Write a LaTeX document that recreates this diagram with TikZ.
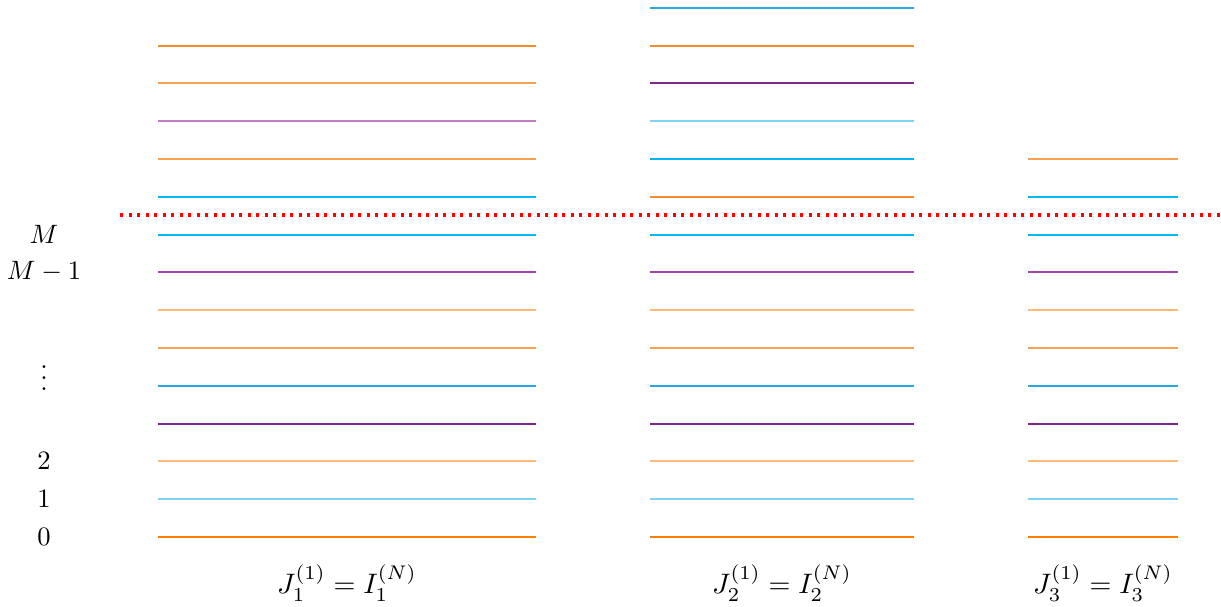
\documentclass[tikz,border=0pt]{standalone}
\usepackage{amsmath}
\definecolor{cOr}{RGB}{255,128,0}
\definecolor{cLb}{RGB}{125,212,245}
\definecolor{cLo}{RGB}{255,185,120}
\definecolor{cDp}{RGB}{125,40,140}
\definecolor{cBl}{RGB}{40,168,225}
\definecolor{cMo}{RGB}{250,160,80}
\definecolor{cPu}{RGB}{165,70,175}
\definecolor{cCy}{RGB}{0,185,240}
\definecolor{cLp}{RGB}{195,125,195}
\definecolor{cOa}{RGB}{245,140,45}
\tikzset{
  lvl/.style={line width=0.7pt},
  ground/.style={line width=1.1pt},
  lab/.style={inner sep=0pt, anchor=center},
  clab/.style={inner sep=0pt, anchor=center, scale=1.06},
}
\begin{document}
\begin{tikzpicture}[x=0.013228cm,y=-0.013228cm]
\useasboundingbox (0,0) rectangle (1221,606);
% common levels 0..8 for the three columns
\foreach \xa/\xb in {158/536, 650/914, 1028/1178}{
  \draw[ground,cOr] (\xa,537) -- (\xb,537);
  \foreach \k/\c in {1/cLb,2/cLo,3/cDp,4/cBl,5/cMo,6/cLo,7/cPu,8/cCy}{
    \draw[lvl,\c] (\xa,537-37.8*\k) -- (\xb,537-37.8*\k);
  }
}
% column 1 above
\foreach \k/\c in {9/cCy,10/cMo,11/cLp,12/cMo,13/cOa}{
  \draw[lvl,\c] (158,537-37.8*\k) -- (536,537-37.8*\k);
}
% column 2 above
\foreach \k/\c in {9/cOa,10/cCy,11/cLb,12/cDp,13/cOa,14/cBl}{
  \draw[lvl,\c] (650,537-37.8*\k) -- (914,537-37.8*\k);
}
% column 3 above
\foreach \k/\c in {9/cCy,10/cMo}{
  \draw[lvl,\c] (1028,537-37.8*\k) -- (1178,537-37.8*\k);
}
% threshold line
\coordinate (tl) at (120,215);
\coordinate (tr) at (1221,215);
\draw[red, line width=1.2pt, dotted] (tl) -- (tr);
% level labels
\node[lab] (lM) at (44,234) {$M$};
\node[lab] (lM1) at (44,272) {$M-1$};
\node[lab] (ldots) at (44,370) {$\vdots$};
\node[lab] (l2) at (44,461) {$2$};
\node[lab] (l1) at (44,499) {$1$};
\node[lab] (l0) at (44,537) {$0$};
% column labels
\node[clab] (c1) at (347,583) {$J_1^{(1)}=I_1^{(N)}$};
\node[clab] (c2) at (782,583) {$J_2^{(1)}=I_2^{(N)}$};
\node[clab] (c3) at (1103,583) {$J_3^{(1)}=I_3^{(N)}$};
\end{tikzpicture}
\end{document}
